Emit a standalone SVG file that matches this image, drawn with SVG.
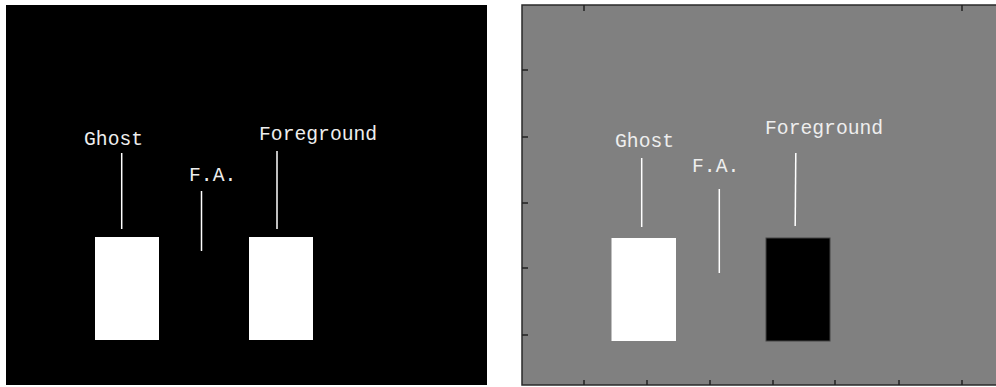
<svg xmlns="http://www.w3.org/2000/svg" width="996" height="387" viewBox="0 0 996 387">
<style>
.lbl{font-family:"Courier New","Liberation Mono","DejaVu Sans Mono",monospace;font-size:19.7px;fill:#eeeeee}
.lead{stroke:#ffffff;stroke-width:1.5;fill:none}
.tick{stroke:#222222;stroke-width:1.5}
</style>
<rect x="0" y="0" width="996" height="387" fill="#ffffff"/>
<g id="panel-left">
<rect x="6" y="5" width="481" height="380" fill="#000000"/>
</g>
<g id="panel-right">
<rect x="522" y="5" width="475" height="380" fill="#808080" stroke="#2a2a2a" stroke-width="1.5"/>
<g class="tick">
<line x1="584" y1="5" x2="584" y2="11"/>
<line x1="962" y1="5" x2="962" y2="11"/>
<line x1="584" y1="385" x2="584" y2="380"/>
<line x1="647" y1="385" x2="647" y2="380"/>
<line x1="710" y1="385" x2="710" y2="380"/>
<line x1="773" y1="385" x2="773" y2="380"/>
<line x1="835" y1="385" x2="835" y2="380"/>
<line x1="899" y1="385" x2="899" y2="380"/>
<line x1="962" y1="385" x2="962" y2="380"/>
<line x1="522" y1="70" x2="528" y2="70"/>
<line x1="522" y1="137" x2="528" y2="137"/>
<line x1="522" y1="203" x2="528" y2="203"/>
<line x1="522" y1="268" x2="528" y2="268"/>
<line x1="522" y1="335" x2="528" y2="335"/>
</g>
</g>
<g id="left-ghost">
<rect x="95" y="237" width="64" height="103" fill="#ffffff"/>
<text class="lbl" x="84" y="145">Ghost</text>
</g>
<g id="left-fa">
<text class="lbl" x="189" y="181">F.A.</text>
</g>
<g id="left-foreground">
<rect x="249" y="237" width="64" height="103" fill="#ffffff"/>
<text class="lbl" x="259" y="140">Foreground</text>
</g>
<g id="right-ghost">
<rect x="611.5" y="238" width="64.5" height="103" fill="#ffffff"/>
<text class="lbl" x="615" y="147">Ghost</text>
</g>
<g id="right-fa">
<text class="lbl" x="692" y="172">F.A.</text>
</g>
<g id="right-foreground">
<rect x="766" y="238" width="64" height="103" fill="#000000" stroke="#444444" stroke-width="1"/>
<text class="lbl" x="765" y="134">Foreground</text>
</g>
<g id="connectors" class="lead">
<line x1="121.7" y1="153" x2="121.7" y2="229"/>
<line x1="201.5" y1="191" x2="201.5" y2="251"/>
<line x1="277" y1="151" x2="277" y2="229"/>
<line x1="641.7" y1="158" x2="641.7" y2="227"/>
<line x1="719.3" y1="189" x2="719.3" y2="273"/>
<line x1="795.8" y1="153" x2="795.2" y2="226"/>
</g>
</svg>
